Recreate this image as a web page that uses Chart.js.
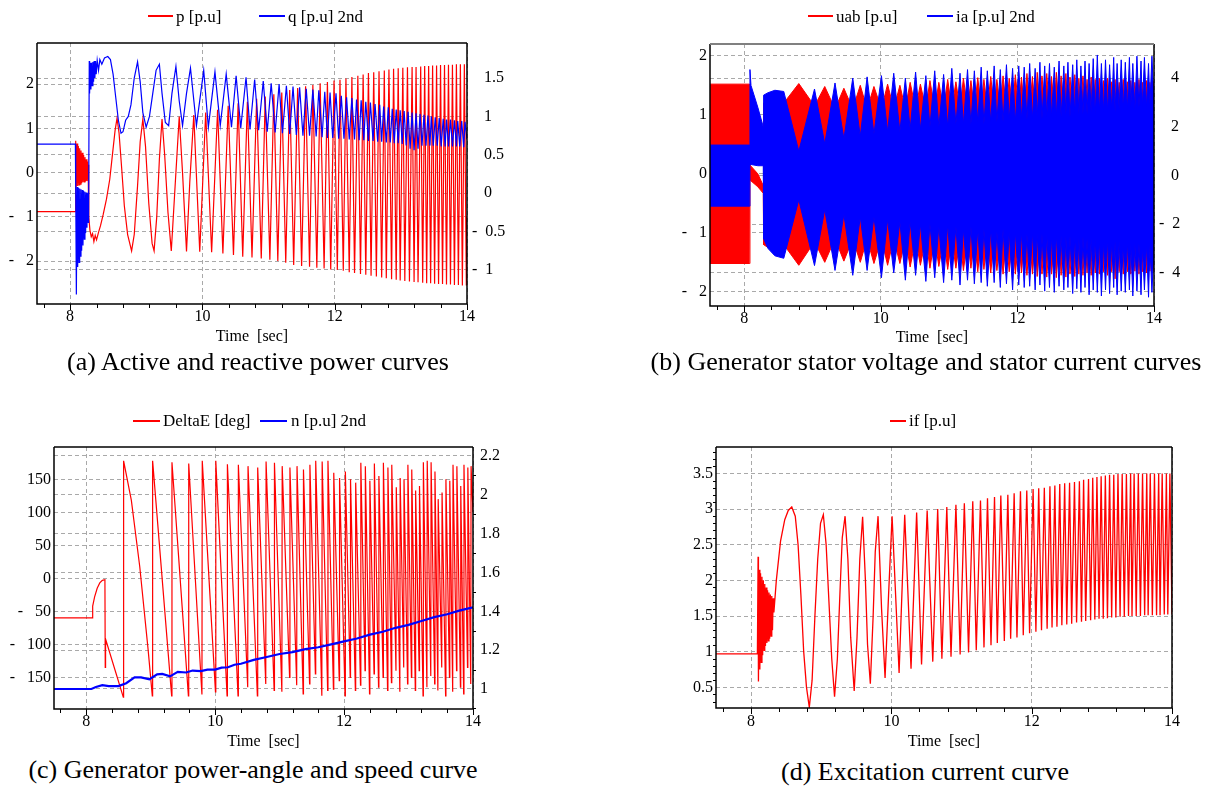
<!DOCTYPE html>
<html><head><meta charset="utf-8">
<script src="https://cdn.jsdelivr.net/npm/chart.js@4.4.1/dist/chart.umd.min.js"></script>
<style>
html,body{margin:0;padding:0;background:#fff;}
body{width:1216px;height:789px;position:relative;overflow:hidden;font-family:'Liberation Serif','Times New Roman',serif;color:#000;}
canvas{position:absolute;}
.ll{position:absolute;height:2px;}
.lt{position:absolute;font-size:17px;line-height:20px;white-space:pre;}
.cap{position:absolute;font-size:26px;line-height:30px;white-space:nowrap;transform:translateX(-50%);}
</style></head><body>
<canvas id="ca" width="512" height="350" style="left:0;top:0"></canvas>
<canvas id="cb" width="582" height="350" style="left:634px;top:0"></canvas>
<canvas id="cc" width="508" height="355" style="left:0;top:400px"></canvas>
<canvas id="cd" width="586" height="355" style="left:630px;top:400px"></canvas>

<div class="ll" style="left:148px;top:15px;width:25px;background:#ff0000"></div><div class="lt" style="left:176px;top:7px">p [p.u]</div>
<div class="ll" style="left:259px;top:15px;width:26px;background:#0000ff"></div><div class="lt" style="left:288px;top:7px">q [p.u] 2nd</div>
<div class="ll" style="left:808px;top:15px;width:25px;background:#ff0000"></div><div class="lt" style="left:836px;top:7px">uab [p.u]</div>
<div class="ll" style="left:927px;top:15px;width:26px;background:#0000ff"></div><div class="lt" style="left:956px;top:7px">ia [p.u] 2nd</div>
<div class="ll" style="left:133px;top:420px;width:27px;background:#ff0000"></div><div class="lt" style="left:163px;top:411px">DeltaE [deg]</div>
<div class="ll" style="left:260px;top:420px;width:27px;background:#0000ff"></div><div class="lt" style="left:291px;top:411px">n [p.u] 2nd</div>
<div class="ll" style="left:890px;top:420px;width:16px;background:#ff0000"></div><div class="lt" style="left:909px;top:411px">if [p.u]</div>

<div class="cap" style="left:258px;top:347px">(a) Active and reactive power curves</div>
<div class="cap" style="left:926px;top:347px">(b) Generator stator voltage and stator current curves</div>
<div class="cap" style="left:253px;top:755px">(c) Generator power-angle and speed curve</div>
<div class="cap" style="left:925px;top:757px">(d) Excitation current curve</div>

<script>
// ---------- tick labels ----------
const xTicks = [8, 10, 12, 14];
const xMinorTicks = [7.6, 8.4, 8.8, 9.2, 9.6, 10.4, 10.8, 11.2, 11.6, 12.4, 12.8, 13.2, 13.6];
const aLeftTicks = [-2, -1, 0, 1, 2];
const aRightTicks = [-1, -0.5, 0, 0.5, 1, 1.5];
const bLeftTicks = [-2, -1, 0, 1, 2];
const bRightTicks = [-4, -2, 0, 2, 4];
const cLeftTicks = [-150, -100, -50, 0, 50, 100, 150];
const cRightTicks = [1, 1.2, 1.4, 1.6, 1.8, 2, 2.2];
const cRightMinorTicks = [0.9, 1.1, 1.3, 1.5, 1.7, 1.9, 2.1];
const dTicks = [0.5, 1, 1.5, 2, 2.5, 3, 3.5];
const dMinorTicks = [0.3, 0.4, 0.6, 0.7, 0.8, 0.9, 1.1, 1.2, 1.3, 1.4, 1.6, 1.7, 1.8, 1.9, 2.1, 2.2, 2.3, 2.4, 2.6, 2.7, 2.8, 2.9, 3.1, 3.2, 3.3, 3.4, 3.6, 3.7, 3.8];

// ---------- (a) active power p [t, value] ----------
const pSeries = [
[7.5,-0.88],[8.08,-0.88],
[8.085,0.72],[8.095,-0.32],[8.105,0.66],[8.115,-0.3],[8.125,0.6],[8.135,-0.28],[8.145,0.55],[8.155,-0.26],[8.165,0.5],[8.175,-0.24],[8.185,0.45],[8.195,-0.22],[8.205,0.4],[8.215,-0.21],[8.225,0.35],[8.235,-0.2],[8.245,0.3],[8.255,-0.19],[8.265,0.25],[8.275,-0.18],[8.28,0.18],
[8.285,-1.0],[8.3,-1.3],[8.32,-1.45],[8.34,-1.38],[8.36,-1.56],[8.38,-1.42],[8.4,-1.52],[8.43,-1.35],[8.46,-1.2],[8.5,-0.95],[8.55,-0.6],[8.6,-0.15],[8.64,0.4],[8.68,0.95],[8.71,1.23],[8.74,0.9],[8.78,0.1],[8.82,-0.75],[8.87,-1.4],[8.93,-1.77],[8.97,-1.4],[9.02,-0.3],[9.06,0.7],[9.1,1.21],[9.14,0.6],[9.19,-0.7],[9.24,-1.6],[9.27,-1.77],[9.31,-1.0],[9.35,0.3],[9.39,1.21],[9.43,0.4],[9.48,-0.9],[9.53,-1.77],[9.58,-0.5],[9.65,1.27],[9.7,0.0],[9.76,-1.78],[9.81,-0.2],[9.87,1.3],[9.96,-1.79],
[10.05,1.36],[10.14,-1.8],[10.23,1.42],[10.31,-1.83],[10.39,1.51],[10.47,-1.86],[10.54,1.57],[10.61,-1.9],[10.68,1.6],[10.75,-1.92],[10.82,1.67],[10.89,-1.94],[10.95,1.72],[11.02,-1.97],[11.08,1.77],[11.14,-2.0],[11.2,1.81],[11.26,-2.04],[11.32,1.87],[11.38,-2.09],[11.44,1.91],[11.5,-2.11],[11.56,1.95],[11.62,-2.13],[11.67,1.98],[11.73,-2.15],[11.78,2.02],[11.84,-2.17],[11.89,2.05],[11.94,-2.19],[11.99,2.08],
[12.04,-2.2],[12.08,2.1],[12.13,-2.22],[12.17,2.13],[12.22,-2.25],[12.26,2.16],[12.3,-2.27],[12.35,2.19],[12.39,-2.29],[12.43,2.22],[12.47,-2.31],[12.51,2.25],[12.55,-2.33],[12.59,2.27],[12.63,-2.35],[12.67,2.29],[12.71,-2.37],[12.75,2.31],[12.78,-2.39],[12.82,2.33],[12.86,-2.41],[12.89,2.35],[12.93,-2.42],[12.96,2.36],[12.99,-2.44],
[13.03,2.37],[13.06,-2.45],[13.1,2.38],[13.13,-2.46],[13.17,2.39],[13.2,-2.47],[13.23,2.39],[13.26,-2.48],[13.3,2.4],[13.33,-2.49],[13.36,2.41],[13.39,-2.5],[13.42,2.41],[13.45,-2.5],[13.48,2.42],[13.51,-2.51],[13.54,2.42],[13.57,-2.52],[13.6,2.43],[13.63,-2.52],[13.66,2.43],[13.69,-2.53],[13.72,2.44],[13.75,-2.53],[13.78,2.44],[13.81,-2.54],[13.84,2.45],[13.87,-2.54],[13.9,2.45],[13.93,-2.55],[13.96,2.45],[13.99,-2.55],[14.0,-1.0]
];

// ---------- (a) reactive power q [t, value] (right axis) ----------
const qSeries = [
[7.5,0.64],[8.08,0.64],
[8.085,0.09],[8.095,-1.32],[8.105,0.08],[8.115,-0.96],[8.125,0.07],[8.135,-0.9],[8.145,0.06],[8.155,-0.82],[8.165,0.05],[8.175,-0.75],[8.185,0.04],[8.195,-0.68],[8.205,0.03],[8.215,-0.6],[8.225,0.02],[8.235,-0.52],[8.245,0.01],[8.255,-0.45],[8.265,0.0],[8.275,-0.38],[8.28,-0.3],
[8.29,1.72],[8.295,1.3],[8.305,1.7],[8.315,1.35],[8.325,1.7],[8.335,1.4],[8.345,1.71],[8.355,1.45],[8.365,1.72],[8.375,1.5],[8.385,1.72],[8.395,1.55],[8.41,1.73],[8.43,1.6],[8.45,1.74],[8.48,1.68],[8.52,1.76],[8.57,1.78],[8.61,1.74],[8.65,1.55],[8.69,1.25],[8.73,0.95],[8.77,0.78],[8.8,0.8],[8.84,0.95],[8.88,1.0],[8.92,1.15],[8.97,1.5],[9.02,1.71],[9.06,1.45],[9.1,1.05],[9.15,0.86],[9.2,1.0],[9.25,1.3],[9.3,1.6],[9.35,1.68],[9.39,1.3],[9.44,0.92],[9.49,0.88],[9.54,1.3],[9.6,1.65],[9.65,1.2],[9.7,0.88],[9.76,1.3],[9.82,1.63],
[9.91,0.88],[10.02,1.6],[10.09,0.86],[10.19,1.58],[10.27,0.88],[10.36,1.55],[10.44,0.86],[10.51,1.53],[10.58,0.85],[10.66,1.51],[10.72,0.83],[10.79,1.48],[10.85,0.82],[10.92,1.46],[10.98,0.8],[11.04,1.43],[11.1,0.79],[11.16,1.42],[11.21,0.78],[11.27,1.4],[11.32,0.77],[11.37,1.39],[11.42,0.76],[11.47,1.38],[11.52,0.75],[11.57,1.36],[11.62,0.75],[11.67,1.35],[11.72,0.74],[11.76,1.34],[11.81,0.73],[11.85,1.32],[11.89,0.72],[11.93,1.31],[11.97,0.72],[12.02,1.3],
[12.06,0.71],[12.1,1.27],[12.14,0.71],[12.18,1.25],[12.22,0.7],[12.26,1.24],[12.3,0.7],[12.33,1.22],[12.37,0.69],[12.4,1.21],[12.44,0.69],[12.47,1.19],[12.51,0.68],[12.54,1.18],[12.58,0.68],[12.61,1.16],[12.65,0.67],[12.68,1.15],[12.71,0.67],[12.74,1.13],[12.78,0.66],[12.81,1.12],[12.84,0.66],[12.87,1.1],[12.9,0.65],[12.93,1.09],[12.96,0.65],[12.99,1.08],
[13.02,0.64],[13.05,1.07],[13.08,0.62],[13.11,1.06],[13.14,0.58],[13.17,1.05],[13.2,0.56],[13.23,1.04],[13.26,0.58],[13.29,1.03],[13.32,0.62],[13.35,1.02],[13.38,0.62],[13.41,1.01],[13.44,0.62],[13.46,1.0],[13.49,0.62],[13.52,0.99],[13.55,0.62],[13.58,0.98],[13.61,0.61],[13.64,0.97],[13.67,0.61],[13.69,0.96],[13.72,0.61],[13.75,0.96],[13.78,0.61],[13.81,0.95],[13.84,0.61],[13.86,0.94],[13.89,0.61],[13.92,0.94],[13.95,0.6],[13.97,0.93],[14.0,0.7]
];

// ---------- (b) stator voltage uab envelope [t, upper, lower] ----------
const uabEnvelope = [
[7.5,1.52,-1.52],[8.08,1.52,-1.52],[8.085,0.15,-0.1],[8.1,0.13,-0.12],[8.2,0.0,-0.22],[8.28,-0.2,-0.33],
[8.285,1.2,-1.2],[8.35,1.25,-1.25],[8.45,1.3,-1.3],[8.58,1.2,-1.2],
[8.8,1.53,-1.55],[9.03,1.15,-1.15],[9.18,1.48,-1.5],[9.33,1.1,-1.1],[9.46,1.45,-1.48],[9.59,1.1,-1.1],[9.7,1.5,-1.5],[9.8,1.1,-1.1],[9.9,1.48,-1.52],[10.01,1.1,-1.1],
[10.1,1.52,-1.55],[10.19,1.1,-1.1],[10.28,1.5,-1.52],[10.36,1.1,-1.1],[10.43,1.55,-1.58],[10.51,1.1,-1.1],[10.58,1.52,-1.55],[10.66,1.1,-1.1],[10.72,1.58,-1.6],[10.79,1.1,-1.1],[10.85,1.55,-1.57],[10.92,1.1,-1.1],[10.98,1.6,-1.62],[11.04,1.1,-1.1],
[11.1,1.56,-1.6],[11.16,1.1,-1.1],[11.21,1.62,-1.64],[11.27,1.1,-1.1],[11.32,1.58,-1.6],[11.37,1.1,-1.1],[11.42,1.63,-1.66],[11.47,1.1,-1.1],[11.51,1.6,-1.62],[11.56,1.1,-1.1],[11.61,1.65,-1.68],[11.66,1.1,-1.1],[11.7,1.6,-1.64],[11.75,1.1,-1.1],[11.79,1.66,-1.7],[11.84,1.1,-1.1],[11.88,1.62,-1.66],[11.93,1.1,-1.1],[11.97,1.68,-1.7],[12.02,1.1,-1.1],
[12.06,1.64,-1.68],[12.1,1.1,-1.1],[12.14,1.7,-1.72],[12.18,1.1,-1.1],[12.22,1.65,-1.7],[12.26,1.1,-1.1],[12.29,1.72,-1.74],[12.33,1.1,-1.1],[12.36,1.66,-1.7],[12.4,1.1,-1.1],[12.43,1.7,-1.75],[12.47,1.1,-1.1],[12.5,1.65,-1.7],[12.54,1.1,-1.1],[12.57,1.72,-1.76],[12.61,1.1,-1.1],[12.64,1.66,-1.72],[12.68,1.1,-1.1],[12.71,1.7,-1.75],[12.74,1.1,-1.1],[12.77,1.64,-1.7],[12.81,1.1,-1.1],[12.84,1.68,-1.74],[12.87,1.1,-1.1],[12.9,1.62,-1.7],[12.93,1.1,-1.1],[12.96,1.66,-1.72],[12.99,1.1,-1.1],
[13.02,1.6,-1.68],[13.05,1.1,-1.1],[13.08,1.64,-1.72],[13.11,1.1,-1.1],[13.14,1.6,-1.68],[13.17,1.1,-1.1],[13.2,1.62,-1.7],[13.23,1.1,-1.1],[13.26,1.58,-1.66],[13.29,1.1,-1.1],[13.32,1.62,-1.72],[13.35,1.1,-1.1],[13.38,1.56,-1.66],[13.41,1.1,-1.1],[13.43,1.6,-1.78],[13.46,1.1,-1.1],[13.49,1.55,-1.66],[13.52,1.1,-1.1],[13.55,1.6,-1.7],[13.58,1.1,-1.1],[13.61,1.56,-1.66],[13.64,1.1,-1.1],[13.66,1.58,-1.7],[13.69,1.1,-1.1],[13.72,1.55,-1.65],[13.75,1.1,-1.1],[13.78,1.6,-1.7],[13.81,1.1,-1.1],[13.83,1.55,-1.66],[13.86,1.1,-1.1],[13.89,1.58,-1.68],[13.92,1.1,-1.1],[13.94,1.55,-1.65],[13.97,1.1,-1.1],[14.0,1.57,-1.66]
];

// ---------- (b) stator current ia envelope [t, upper, lower] (right axis) ----------
const iaEnvelope = [
[7.5,1.25,-1.26],[8.08,1.25,-1.26],[8.085,4.35,0.45],[8.1,3.7,0.45],[8.2,2.8,0.4],[8.28,2.0,0.4],
[8.285,3.3,-2.6],[8.35,3.4,-3.0],[8.45,3.5,-3.3],[8.58,3.45,-3.4],
[8.8,1.0,-1.0],[9.03,3.55,-3.7],[9.18,1.3,-1.4],[9.33,3.8,-3.9],[9.46,1.5,-1.6],[9.59,4.0,-4.1],[9.7,1.6,-1.7],[9.8,4.05,-3.9],[9.9,1.7,-1.7],[10.01,4.1,-4.2],
[10.1,1.8,-1.8],[10.19,4.2,-4.0],[10.28,1.8,-1.9],[10.36,4.0,-4.3],[10.43,1.9,-1.9],[10.51,4.25,-4.1],[10.58,1.9,-2.0],[10.66,4.1,-4.35],[10.72,2.0,-2.0],[10.79,4.3,-4.2],[10.85,2.0,-2.1],[10.92,4.15,-4.4],[10.98,2.0,-2.0],[11.04,4.4,-4.3],
[11.1,2.1,-2.1],[11.16,4.2,-4.5],[11.21,2.1,-2.2],[11.27,4.35,-4.3],[11.32,2.1,-2.1],[11.37,4.3,-4.45],[11.42,2.2,-2.2],[11.47,4.45,-4.4],[11.51,2.1,-2.2],[11.56,4.3,-4.55],[11.61,2.2,-2.2],[11.66,4.5,-4.4],[11.7,2.2,-2.3],[11.75,4.35,-4.6],[11.79,2.2,-2.2],[11.84,4.55,-4.45],[11.88,2.3,-2.3],[11.93,4.4,-4.7],[11.97,2.2,-2.3],[12.02,4.5,-4.5],
[12.06,2.3,-2.3],[12.1,4.45,-4.6],[12.14,2.3,-2.4],[12.18,4.6,-4.55],[12.22,2.3,-2.3],[12.26,4.4,-4.7],[12.29,2.4,-2.4],[12.33,4.65,-4.5],[12.36,2.3,-2.4],[12.4,4.5,-4.75],[12.43,2.4,-2.4],[12.47,4.6,-4.6],[12.5,2.4,-2.5],[12.54,4.45,-4.8],[12.57,2.4,-2.4],[12.61,4.7,-4.55],[12.64,2.4,-2.5],[12.68,4.5,-4.7],[12.71,2.5,-2.5],[12.74,4.65,-4.6],[12.77,2.4,-2.5],[12.81,4.55,-4.85],[12.84,2.5,-2.5],[12.87,4.75,-4.65],[12.9,2.5,-2.6],[12.93,4.5,-4.8],[12.96,2.5,-2.5],[12.99,4.7,-4.6],
[13.02,2.5,-2.6],[13.05,4.6,-4.9],[13.08,2.6,-2.6],[13.11,4.8,-4.7],[13.14,2.5,-2.6],[13.17,4.95,-4.8],[13.2,2.6,-2.6],[13.23,4.6,-4.95],[13.26,2.6,-2.7],[13.29,4.75,-4.7],[13.32,2.6,-2.6],[13.35,4.55,-4.85],[13.38,2.7,-2.7],[13.41,4.85,-4.6],[13.43,2.6,-2.7],[13.46,4.6,-4.9],[13.49,2.7,-2.7],[13.52,4.75,-4.75],[13.55,2.7,-2.8],[13.58,4.65,-4.8],[13.61,2.7,-2.7],[13.64,4.85,-4.7],[13.66,2.8,-2.8],[13.69,4.6,-4.95],[13.72,2.7,-2.8],[13.75,4.9,-4.75],[13.78,2.8,-2.8],[13.81,4.7,-4.9],[13.83,2.8,-2.9],[13.86,4.85,-4.7],[13.89,2.8,-2.8],[13.92,4.6,-5.0],[13.94,2.9,-2.9],[13.97,4.9,-4.8],[14.0,2.9,-2.9]
];

// ---------- (c) power angle DeltaE [t, deg] ----------
const deltaESeries = [
[7.5,-60],[8.09,-60],[8.1,-42],[8.13,-28],[8.17,-15],[8.21,-7],[8.25,-3],[8.29,-2],[8.295,-135],[8.3,-92],[8.45,-140],[8.575,-180],
[8.58,178],[8.7,118],[8.83,18],[8.96,-108],[9.025,-178],[9.03,178],[9.325,-178],[9.33,176],[9.585,-178],[9.59,174],[9.795,-176],[9.8,178],[10.005,-172],[10.01,178],
[10.185,-178],[10.19,173],[10.355,-178],[10.36,172],[10.505,-165],[10.51,170],[10.655,-178],[10.66,168],[10.785,-160],[10.79,177],[10.915,-170],[10.92,175],[11.035,-172],[11.04,170],
[11.155,-150],[11.16,168],[11.265,-162],[11.27,170],[11.365,-175],[11.37,165],[11.465,-160],[11.47,172],[11.555,-145],[11.56,178],[11.655,-178],[11.66,177],[11.745,-170],[11.75,178],[11.835,-168],[11.84,160],[11.925,-155],[11.93,152],[12.015,-178],[12.02,162],
[12.095,-150],[12.1,150],[12.175,-170],[12.18,145],[12.255,-162],[12.26,175],[12.325,-140],[12.33,170],[12.395,-175],[12.4,148],[12.465,-145],[12.47,174],[12.535,-165],[12.54,155],[12.605,-150],[12.61,175],[12.675,-170],[12.68,168],[12.735,-158],[12.74,172],[12.805,-140],[12.81,138],[12.865,-172],[12.87,152],[12.925,-135],[12.93,150],[12.985,-160],[12.99,172],
[13.045,-150],[13.05,165],[13.105,-170],[13.11,133],[13.165,-140],[13.17,140],[13.225,-178],[13.23,176],[13.285,-165],[13.29,178],[13.345,-148],[13.35,176],[13.405,-160],[13.41,162],[13.455,-170],[13.46,120],[13.515,-135],[13.52,130],[13.575,-178],[13.58,150],[13.635,-150],[13.64,148],[13.685,-172],[13.69,172],[13.745,-140],[13.75,170],[13.805,-165],[13.81,140],[13.855,-175],[13.86,172],[13.915,-135],[13.92,168],[13.965,-160],[13.97,170],[14.0,100]
];

// ---------- (c) speed n [t, p.u] (right axis) ----------
const nSeries = [
[7.5,1.0],[8.08,1.0],[8.15,1.01],[8.25,1.02],[8.35,1.015],[8.5,1.015],[8.62,1.03],[8.75,1.06],[8.85,1.06],[8.98,1.05],[9.1,1.075],[9.18,1.078],[9.3,1.065],[9.42,1.088],[9.55,1.085],[9.65,1.095],[9.78,1.092],[9.88,1.1],[10.0,1.1],
[10.1,1.11],[10.2,1.112],[10.3,1.125],[10.4,1.13],[10.6,1.15],[10.8,1.165],[11.0,1.18],[11.2,1.19],[11.4,1.205],[11.6,1.215],[11.8,1.23],[12.0,1.245],[12.2,1.26],[12.4,1.28],[12.6,1.295],[12.8,1.315],[13.0,1.33],[13.2,1.35],[13.4,1.37],[13.6,1.385],[13.8,1.405],[14.0,1.42]
];

// ---------- (d) excitation current if [t, p.u] ----------
const ifSeries = [
[7.5,0.97],[8.09,0.97],
[8.1,2.33],[8.105,0.58],[8.115,2.15],[8.125,0.75],[8.135,2.1],[8.145,0.85],[8.155,2.05],[8.165,0.95],[8.175,2.0],[8.185,1.02],[8.195,1.95],[8.205,1.08],[8.215,1.9],[8.225,1.12],[8.235,1.86],[8.245,1.15],[8.255,1.83],[8.265,1.18],[8.275,1.8],[8.285,1.22],[8.295,1.78],[8.305,1.3],[8.315,1.75],[8.325,1.55],
[8.36,2.0],[8.42,2.55],[8.48,2.85],[8.53,2.98],[8.58,3.03],[8.63,2.9],[8.67,2.5],[8.71,1.8],[8.75,1.0],[8.79,0.5],[8.83,0.22],[8.87,0.6],[8.91,1.5],[8.95,2.3],[8.99,2.8],[9.03,2.92],[9.07,2.5],[9.11,1.7],[9.15,0.9],[9.19,0.37],[9.23,0.9],[9.27,1.9],[9.3,2.6],[9.34,2.9],[9.38,2.3],[9.42,1.2],[9.47,0.45],[9.51,1.2],[9.55,2.3],[9.59,2.89],[9.63,2.0],[9.66,1.1],[9.7,0.55],[9.74,1.5],[9.77,2.4],[9.81,2.9],[9.86,1.6],[9.91,0.63],[9.96,1.8],[10.01,2.9],
[10.11,0.7],[10.19,2.92],[10.28,0.76],[10.36,2.95],[10.43,0.82],[10.51,2.98],[10.59,0.86],[10.66,3.0],[10.72,0.9],[10.79,3.03],[10.85,0.93],[10.92,3.06],[10.98,0.96],[11.04,3.08],
[11.1,0.99],[11.16,3.11],[11.21,1.02],[11.27,3.12],[11.32,1.06],[11.37,3.15],[11.42,1.09],[11.47,3.17],[11.51,1.12],[11.56,3.19],[11.61,1.15],[11.66,3.2],[11.7,1.18],[11.75,3.22],[11.79,1.2],[11.84,3.25],[11.88,1.23],[11.93,3.26],[11.97,1.26],[12.02,3.28],
[12.06,1.28],[12.1,3.29],[12.14,1.3],[12.18,3.3],[12.22,1.32],[12.26,3.32],[12.29,1.34],[12.33,3.33],[12.36,1.35],[12.4,3.35],[12.43,1.37],[12.47,3.36],[12.5,1.38],[12.54,3.37],[12.57,1.39],[12.61,3.38],[12.64,1.41],[12.68,3.39],[12.71,1.42],[12.74,3.41],[12.77,1.43],[12.81,3.42],[12.84,1.44],[12.87,3.44],[12.9,1.45],[12.93,3.45],[12.96,1.46],[12.99,3.46],
[13.02,1.46],[13.05,3.47],[13.08,1.47],[13.11,3.48],[13.14,1.48],[13.17,3.48],[13.2,1.48],[13.23,3.49],[13.26,1.49],[13.29,3.49],[13.32,1.49],[13.35,3.49],[13.38,1.5],[13.41,3.5],[13.43,1.5],[13.46,3.5],[13.49,1.5],[13.52,3.5],[13.55,1.5],[13.58,3.5],[13.61,1.51],[13.64,3.5],[13.66,1.51],[13.69,3.5],[13.72,1.51],[13.75,3.5],[13.78,1.51],[13.81,3.5],[13.83,1.51],[13.86,3.5],[13.89,1.52],[13.92,3.5],[13.94,1.52],[13.97,3.5],[14.0,1.52]
];

// ---------- helpers ----------
const FONT = "'Liberation Serif','Times New Roman',serif";
const GRID = '#a9a9a9';
const RED = '#ff0000', BLUE = '#0000ff';
const xy = arr => arr.map(p => ({x: p[0], y: p[1]}));
const env = (arr, k) => arr.map(p => ({x: p[0], y: p[k]}));
const fixed = list => s => { s.ticks = list.map(v => ({value: v})); };
const leftFmt = v => v < 0 ? '-   ' + Math.abs(v) : String(v);
const rightFmt = v => v < 0 ? '-  ' + Math.abs(v) : '   ' + v;

function xScale(h, pad, tpad) {
  return {type: 'linear', min: 7.5, max: 14,
    afterBuildTicks: fixed(xTicks), afterFit: s => { s.height = h; },
    grid: {color: GRID, lineWidth: 1, drawTicks: false},
    border: {display: false, dash: [4, 3]},
    ticks: {font: {family: FONT, size: 16}, color: '#000', padding: pad, autoSkip: false, maxRotation: 0},
    title: {display: true, text: 'Time  [sec]', font: {family: FONT, size: 16}, color: '#000', padding: {top: 0, bottom: tpad}}};
}
function yScale(pos, min, max, list, w, fmt, pad) {
  return {type: 'linear', position: pos, min, max,
    afterBuildTicks: fixed(list), afterFit: s => { s.width = w; },
    grid: {color: GRID, lineWidth: 1, drawTicks: false},
    border: {display: false, dash: [4, 3]},
    ticks: {font: {family: FONT, size: 16}, color: '#000', padding: pad, autoSkip: false, callback: fmt}};
}
// frame around plot area + small outward tick marks
const framePlugin = {
  id: 'frame',
  afterDatasetsDraw(chart, args, opts) {
    const {ctx, chartArea: a, scales} = chart;
    ctx.save();
    ctx.lineWidth = 1;
    ctx.strokeStyle = '#000';
    ctx.beginPath();
    xMinorTicks.forEach(v => { const px = Math.round(scales.x.getPixelForValue(v)) + 0.5; ctx.moveTo(px, a.bottom); ctx.lineTo(px, a.bottom + 4); });
    xTicks.forEach(v => { const px = Math.round(scales.x.getPixelForValue(v)) + 0.5; ctx.moveTo(px, a.bottom); ctx.lineTo(px, a.bottom + 6); });
    (opts.leftMinor || []).forEach(v => { const py = Math.round(scales.y.getPixelForValue(v)) + 0.5; ctx.moveTo(a.left, py); ctx.lineTo(a.left - 3, py); });
    (opts.rightMinor || []).forEach(v => { const py = Math.round(scales.y2.getPixelForValue(v)) + 0.5; ctx.moveTo(a.right, py); ctx.lineTo(a.right + 3, py); });
    ctx.stroke();
    ctx.lineWidth = 1.5;
    ctx.beginPath();
    ctx.moveTo(a.left, a.top); ctx.lineTo(a.left, a.bottom); ctx.lineTo(a.right, a.bottom); ctx.lineTo(a.right, a.top);
    ctx.stroke();
    ctx.strokeStyle = opts.top || '#000';
    ctx.lineWidth = opts.topWidth || 1.5;
    ctx.beginPath(); ctx.moveTo(a.left, a.top); ctx.lineTo(a.right, a.top); ctx.stroke();
    ctx.restore();
  }
};
function line(data, color, axis, width, order) {
  return {data, borderColor: color, backgroundColor: color, borderWidth: width, pointRadius: 0, fill: false, tension: 0, yAxisID: axis, order};
}
function make(id, datasets, scales, padding, frame) {
  return new Chart(document.getElementById(id), {
    type: 'line',
    data: {datasets},
    options: {responsive: false, animation: false, events: [], devicePixelRatio: 1,
      layout: {padding},
      plugins: {legend: {display: false}, tooltip: {enabled: false}, frame: frame || {}},
      scales},
    plugins: [framePlugin]
  });
}

// ---------- (a) ----------
make('ca', [
  line(xy(pSeries), RED, 'y', 1.2, 1),
  line(xy(qSeries), BLUE, 'y2', 1.2, 0)
], {
  x: xScale(46, 3, 3.7),
  y: yScale('left', -2.97, 2.93, aLeftTicks, 37, leftFmt, 3),
  y2: yScale('right', -1.443, 1.956, aRightTicks, 45, rightFmt, 5)
}, {top: 43, left: 0, right: 0, bottom: 0});

// ---------- (b) ----------
const uabUp = line(env(uabEnvelope, 1), RED, 'y', 1, 2); uabUp.fill = '+1';
const uabLow = line(env(uabEnvelope, 2), RED, 'y', 1, 3);
const iaUp = line(env(iaEnvelope, 1), BLUE, 'y2', 1, 0); iaUp.fill = '+1';
const iaLow = line(env(iaEnvelope, 2), BLUE, 'y2', 1, 1);
make('cb', [uabUp, uabLow, iaUp, iaLow], {
  x: xScale(44, 2.7, 2.4),
  y: yScale('left', -2.24, 2.2, bLeftTicks, 76, leftFmt, 3),
  y2: yScale('right', -5.36, 5.4, bRightTicks, 62, rightFmt, 5)
}, {top: 44, left: 0, right: 0, bottom: 0}, {top: '#808080', topWidth: 2});

// ---------- (c) ----------
make('cc', [
  line(xy(deltaESeries), RED, 'y', 1.2, 1),
  line(xy(nSeries), BLUE, 'y2', 2.2, 0)
], {
  x: xScale(46, 3.1, 3.7),
  y: yScale('left', -198, 199, cLeftTicks, 54, leftFmt, 3),
  y2: yScale('right', 0.897, 2.246, cRightTicks, 35, v => String(v), 7)
}, {top: 47, left: 0, right: 0, bottom: 0}, {rightMinor: cRightMinorTicks});

// ---------- (d) ----------
make('cd', [
  line(xy(ifSeries), RED, 'y', 1.3, 0)
], {
  x: xScale(47, 3.8, 3.7),
  y: yScale('left', 0.21, 3.87, dTicks, 86, v => String(v), 3)
}, {top: 47, left: 0, right: 44, bottom: 0}, {leftMinor: dMinorTicks});
</script>
</body></html>
